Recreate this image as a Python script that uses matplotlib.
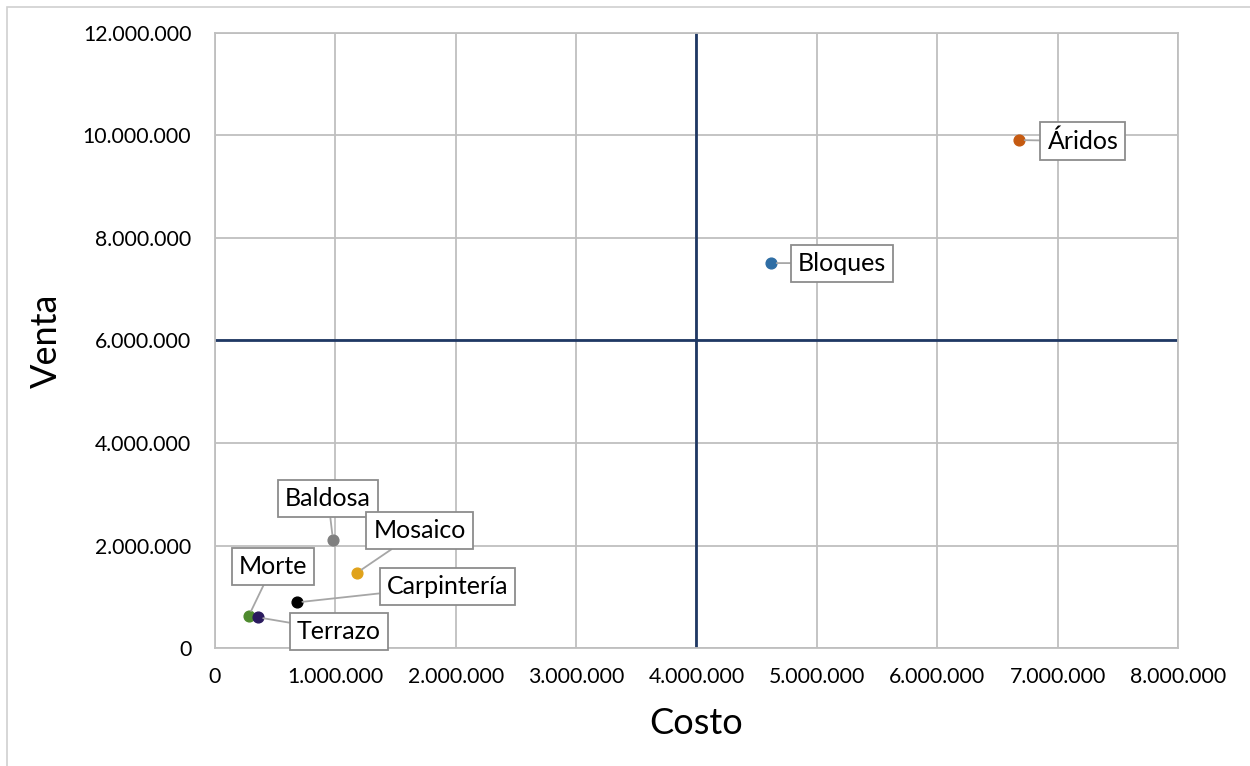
import matplotlib
matplotlib.use("Agg")
from matplotlib import pyplot as plt
from matplotlib.ticker import FuncFormatter, MultipleLocator
from matplotlib.patches import Rectangle

plt.rcParams['font.family'] = ['Lato', 'DejaVu Sans']

# data
productos = ["Áridos", "Bloques", "Baldosa", "Mosaico", "Carpintería", "Morte", "Terrazo"]
costo = [6680000, 4620000, 980000, 1180000, 680000, 280000, 355000]
venta = [9910000, 7510000, 2110000, 1470000, 890000, 625000, 600000]
colores = ["#C55A11", "#2E6DA4", "#7F7F7F", "#E0A21A", "#000000", "#4E8A2E", "#2A1A5E"]
# label box centres (data coords)
etiqueta_x = [7210000, 5210000, 940000, 1700000, 1930000, 480000, 1030000]
etiqueta_y = [9890000, 7510000, 2910000, 2300000, 1210000, 1600000, 330000]

corte_x = 4000000
corte_y = 6000000

def miles(v, pos):
    return f"{int(v):,}".replace(",", ".")

fig = plt.figure(figsize=(12.5, 7.66), dpi=100)
fig.patches.append(Rectangle((7 / 1250, -0.1), 1.2, 1.1 - 7 / 766, transform=fig.transFigure,
                             fill=False, edgecolor="#D0D0D0", linewidth=1.2))
ax = fig.add_axes([0.172, 0.154, 0.7704, 0.803])

ax.set_xlim(0, 8000000)
ax.set_ylim(0, 12000000)
ax.xaxis.set_major_locator(MultipleLocator(1000000))
ax.yaxis.set_major_locator(MultipleLocator(2000000))
ax.xaxis.set_major_formatter(FuncFormatter(miles))
ax.yaxis.set_major_formatter(FuncFormatter(miles))
ax.grid(True, color="#BFBFBF", linewidth=1.3)
ax.set_axisbelow(True)
for s in ax.spines.values():
    s.set_color("#BFBFBF")
    s.set_linewidth(1.3)
ax.tick_params(axis="y", length=0, labelsize=15.3, pad=17)
ax.tick_params(axis="x", length=0, labelsize=15.3, pad=14)

ax.axvline(corte_x, color="#1F3864", linewidth=2)
ax.axhline(corte_y, color="#1F3864", linewidth=2)

for i in range(len(productos)):
    ax.scatter(costo[i], venta[i], s=60, color=colores[i], zorder=5)
    ax.annotate(productos[i], xy=(costo[i], venta[i]), xytext=(etiqueta_x[i], etiqueta_y[i]),
                ha="center", va="center", fontsize=18, zorder=6,
                bbox=dict(boxstyle="square,pad=0.28", facecolor="white", edgecolor="#8C8C8C", linewidth=1.3),
                arrowprops=dict(arrowstyle="-", color="#A6A6A6", linewidth=1.3, shrinkA=0, shrinkB=4))

ax.set_xlabel("Costo", fontsize=26, labelpad=14)
ax.set_ylabel("Venta", fontsize=26, labelpad=14)

fig.savefig("out.png", dpi=100)
